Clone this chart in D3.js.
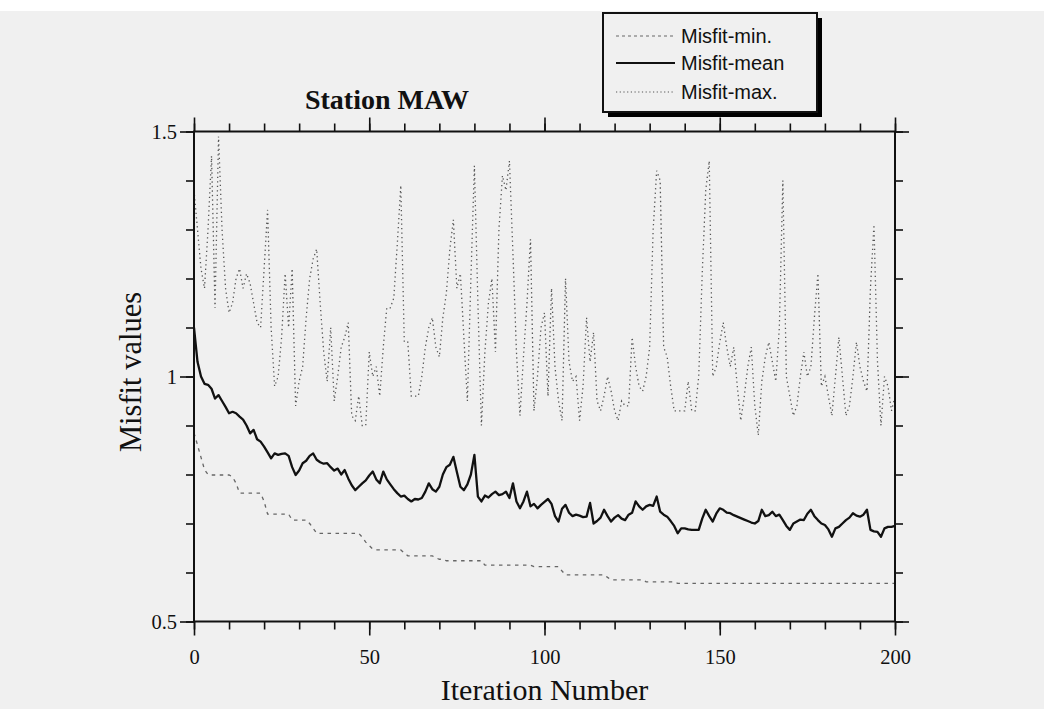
<!DOCTYPE html>
<html>
<head>
<meta charset="utf-8">
<script src="https://cdn.jsdelivr.net/npm/d3@7"></script>
<style>
  html, body { margin: 0; padding: 0; background: #f0f0f0; }
  svg { display: block; }
</style>
</head>
<body>
<div id="chart"></div>
<script>
// misfit per iteration (index = iteration number 0..200)
var misfitMax = [
  1.38, 1.30, 1.22, 1.18, 1.30, 1.45, 1.14, 1.49, 1.30, 1.18,
  1.13, 1.15, 1.20, 1.22, 1.18, 1.21, 1.19, 1.15, 1.11, 1.10,
  1.22, 1.34, 1.10, 0.98, 1.00, 1.08, 1.21, 1.10, 1.22, 0.94,
  0.99, 1.02, 1.12, 1.20, 1.24, 1.26, 1.15, 1.05, 0.99, 1.10,
  0.95, 1.00, 1.06, 1.08, 1.11, 0.92, 0.91, 0.96, 0.90, 0.90,
  1.05, 1.00, 1.02, 0.96, 1.06, 1.14, 1.14, 1.16, 1.27, 1.39,
  1.07, 1.07, 0.96, 0.96, 0.96, 1.00, 1.06, 1.10, 1.12, 1.06,
  1.04, 1.12, 1.17, 1.26, 1.32, 1.18, 1.21, 1.08, 0.95, 1.20,
  1.43, 1.15, 0.90, 1.05, 1.15, 1.20, 1.05, 1.30, 1.41, 1.38,
  1.44, 1.25, 1.05, 0.92, 1.04, 1.15, 1.28, 0.93, 1.00, 1.10,
  1.13, 0.96, 1.18, 1.02, 0.95, 0.91, 1.20, 1.03, 0.99, 1.00,
  0.91, 0.98, 1.12, 1.03, 1.09, 0.95, 0.93, 0.96, 1.00, 0.97,
  0.93, 0.91, 0.95, 0.94, 0.94, 1.08, 1.02, 0.98, 0.97, 1.00,
  1.06, 1.30, 1.42, 1.40, 1.06, 1.04, 0.98, 0.93, 0.93, 0.93,
  0.93, 0.99, 0.93, 0.93, 1.00, 1.21, 1.38, 1.44, 1.00, 1.02,
  1.07, 1.11, 1.06, 1.02, 1.06, 0.98, 0.91, 0.96, 1.02, 1.06,
  0.94, 0.88, 0.99, 1.04, 1.07, 1.03, 0.99, 1.10, 1.40, 1.00,
  0.96, 0.92, 0.94, 1.00, 1.05, 1.00, 1.02, 1.12, 1.21, 0.98,
  1.00, 0.96, 0.92, 1.00, 1.08, 1.00, 0.92, 0.94, 1.00, 1.07,
  1.02, 0.99, 0.97, 1.18, 1.31, 1.03, 0.90, 1.00, 0.98, 0.93,
  0.96
];

var misfitMean = [
  1.100, 1.030, 1.000, 0.985, 0.983, 0.975, 0.955, 0.962, 0.950, 0.938,
  0.925, 0.928, 0.925, 0.918, 0.912, 0.900, 0.884, 0.891, 0.872, 0.867,
  0.857, 0.845, 0.833, 0.843, 0.840, 0.842, 0.843, 0.838, 0.815, 0.799,
  0.808, 0.823, 0.828, 0.838, 0.843, 0.830, 0.825, 0.822, 0.823, 0.815,
  0.808, 0.812, 0.800, 0.809, 0.792, 0.778, 0.768, 0.775, 0.782, 0.788,
  0.798, 0.806, 0.790, 0.782, 0.806, 0.790, 0.780, 0.770, 0.762, 0.755,
  0.757, 0.750, 0.745, 0.750, 0.749, 0.752, 0.765, 0.782, 0.770, 0.765,
  0.775, 0.800, 0.815, 0.820, 0.836, 0.805, 0.775, 0.768, 0.780, 0.800,
  0.840, 0.755, 0.745, 0.757, 0.753, 0.760, 0.765, 0.758, 0.760, 0.765,
  0.752, 0.782, 0.745, 0.731, 0.745, 0.765, 0.735, 0.740, 0.731, 0.738,
  0.744, 0.750, 0.740, 0.715, 0.704, 0.730, 0.738, 0.722, 0.715, 0.718,
  0.716, 0.713, 0.714, 0.742, 0.700, 0.705, 0.712, 0.728, 0.715, 0.704,
  0.712, 0.717, 0.710, 0.707, 0.718, 0.722, 0.745, 0.735, 0.728, 0.735,
  0.738, 0.736, 0.755, 0.724, 0.718, 0.714, 0.705, 0.695, 0.680, 0.690,
  0.690, 0.688, 0.687, 0.687, 0.687, 0.710, 0.728, 0.715, 0.704, 0.720,
  0.731, 0.728, 0.722, 0.721, 0.717, 0.714, 0.711, 0.708, 0.705, 0.702,
  0.700, 0.705, 0.728, 0.715, 0.717, 0.724, 0.715, 0.718, 0.707, 0.695,
  0.687, 0.700, 0.704, 0.708, 0.707, 0.720, 0.728, 0.715, 0.707, 0.700,
  0.697, 0.688, 0.673, 0.690, 0.693, 0.700, 0.707, 0.712, 0.721, 0.716,
  0.714, 0.718, 0.728, 0.687, 0.684, 0.683, 0.673, 0.690, 0.693, 0.693,
  0.695
];

var misfitMin = [
  0.885, 0.860, 0.835, 0.810, 0.800, 0.799, 0.799, 0.799, 0.799, 0.799,
  0.799, 0.795, 0.782, 0.762, 0.762, 0.762, 0.762, 0.762, 0.762, 0.762,
  0.745, 0.719, 0.719, 0.719, 0.719, 0.719, 0.719, 0.719, 0.707, 0.707,
  0.707, 0.707, 0.707, 0.700, 0.690, 0.680, 0.680, 0.680, 0.680, 0.680,
  0.680, 0.680, 0.680, 0.680, 0.680, 0.680, 0.680, 0.680, 0.672, 0.662,
  0.655, 0.648, 0.646, 0.646, 0.646, 0.646, 0.646, 0.646, 0.646, 0.646,
  0.640, 0.634, 0.634, 0.634, 0.634, 0.634, 0.634, 0.634, 0.634, 0.630,
  0.627, 0.627, 0.624, 0.624, 0.624, 0.624, 0.624, 0.624, 0.624, 0.624,
  0.624, 0.624, 0.624, 0.615, 0.615, 0.615, 0.615, 0.615, 0.615, 0.615,
  0.615, 0.615, 0.615, 0.615, 0.615, 0.615, 0.615, 0.612, 0.612, 0.612,
  0.612, 0.612, 0.612, 0.612, 0.612, 0.603, 0.595, 0.595, 0.595, 0.595,
  0.595, 0.595, 0.595, 0.595, 0.595, 0.595, 0.595, 0.595, 0.590, 0.585,
  0.585, 0.585, 0.585, 0.585, 0.585, 0.585, 0.585, 0.585, 0.585, 0.581,
  0.581, 0.581, 0.581, 0.581, 0.581, 0.581, 0.581, 0.581, 0.578, 0.578,
  0.578, 0.578, 0.578, 0.578, 0.578, 0.578, 0.578, 0.578, 0.578, 0.578,
  0.578, 0.578, 0.578, 0.578, 0.578, 0.578, 0.578, 0.578, 0.578, 0.578,
  0.578, 0.578, 0.578, 0.578, 0.578, 0.578, 0.578, 0.578, 0.578, 0.578,
  0.578, 0.578, 0.578, 0.578, 0.578, 0.578, 0.578, 0.578, 0.578, 0.578,
  0.578, 0.578, 0.578, 0.578, 0.578, 0.578, 0.578, 0.578, 0.578, 0.578,
  0.578, 0.578, 0.578, 0.578, 0.578, 0.578, 0.578, 0.578, 0.578, 0.578,
  0.578
];

var xMajorTicks = [0, 50, 100, 150, 200];
var yMajorTicks = [0.5, 1, 1.5];
var yTickLabels = ["0.5", "1", "1.5"];
var legendLabels = ["Misfit-min.", "Misfit-mean", "Misfit-max."];

var serif = "'Liberation Serif', 'Times New Roman', serif";
var sans = "'Liberation Sans', Arial, sans-serif";

// note: don't call these top/left, window.top is read-only
var width = 1044,
  height = 709,
  plotLeft = 194, plotRight = 895, plotTop = 131.5, plotBottom = 621.5;

var svg = d3.select("#chart").append("svg")
  .attr("width", width)
  .attr("height", height);

svg.append("rect").attr("width", width).attr("height", height).attr("fill", "#f0f0f0");
svg.append("rect").attr("width", width).attr("height", 11).attr("fill", "#ffffff");

var x = d3.scaleLinear().domain([0, 200]).range([plotLeft, plotRight]);
var y = d3.scaleLinear().domain([0.5, 1.5]).range([plotBottom, plotTop]);

var xMinor = d3.range(0, 201, 10);
var yMinor = d3.range(5, 16).map(function (d) { return d / 10; });

function styleAxis(g) {
  g.select(".domain").remove();
  g.selectAll("line").attr("stroke", "#111").attr("stroke-width", 1.6);
  g.selectAll("text").attr("font-family", serif).attr("font-size", 20.5).attr("fill", "#111");
}

// minor ticks on all four sides
svg.append("g").attr("transform", "translate(0," + plotBottom + ")")
  .call(d3.axisBottom(x).tickValues(xMinor).tickSize(8).tickFormat(""))
  .call(styleAxis);
svg.append("g").attr("transform", "translate(0," + plotTop + ")")
  .call(d3.axisTop(x).tickValues(xMinor).tickSize(8).tickFormat(""))
  .call(styleAxis);
svg.append("g").attr("transform", "translate(" + plotLeft + ",0)")
  .call(d3.axisLeft(y).tickValues(yMinor).tickSize(8).tickFormat(""))
  .call(styleAxis);
svg.append("g").attr("transform", "translate(" + plotRight + ",0)")
  .call(d3.axisRight(y).tickValues(yMinor).tickSize(8).tickFormat(""))
  .call(styleAxis);

// major ticks
var xAxis = svg.append("g").attr("transform", "translate(0," + plotBottom + ")")
  .call(d3.axisBottom(x).tickValues(xMajorTicks).tickSize(14).tickFormat(d3.format("d")))
  .call(styleAxis);
xAxis.selectAll("text").attr("y", 42).attr("dy", null);

svg.append("g").attr("transform", "translate(0," + plotTop + ")")
  .call(d3.axisTop(x).tickValues(xMajorTicks).tickSize(14).tickFormat(""))
  .call(styleAxis);

var yAxis = svg.append("g").attr("transform", "translate(" + plotLeft + ",0)")
  .call(d3.axisLeft(y).tickValues(yMajorTicks).tickSize(14)
    .tickFormat(function (d, i) { return yTickLabels[i]; }))
  .call(styleAxis);
yAxis.selectAll("text").attr("dy", "0.34em");

svg.append("g").attr("transform", "translate(" + plotRight + ",0)")
  .call(d3.axisRight(y).tickValues(yMajorTicks).tickSize(14).tickFormat(""))
  .call(styleAxis);

// series
var line = d3.line()
  .x(function (d, i) { return x(i); })
  .y(function (d) { return y(d); });

svg.append("path").datum(misfitMax)
  .attr("d", line)
  .attr("fill", "none")
  .attr("stroke", "#555")
  .attr("stroke-width", 1.3)
  .attr("stroke-dasharray", "1.3,3.2");

svg.append("path").datum(misfitMin)
  .attr("d", line)
  .attr("fill", "none")
  .attr("stroke", "#666")
  .attr("stroke-width", 1.3)
  .attr("stroke-dasharray", "3.5,4.5");

svg.append("path").datum(misfitMean)
  .attr("d", line)
  .attr("fill", "none")
  .attr("stroke", "#111")
  .attr("stroke-width", 2.3)
  .attr("stroke-linejoin", "round");

// frame
svg.append("rect")
  .attr("x", plotLeft).attr("y", plotTop)
  .attr("width", plotRight - plotLeft).attr("height", plotBottom - plotTop)
  .attr("fill", "none")
  .attr("stroke", "#111")
  .attr("stroke-width", 2);

// titles
svg.append("text")
  .attr("x", 387).attr("y", 109)
  .attr("text-anchor", "middle")
  .attr("font-family", serif).attr("font-size", 28).attr("font-weight", "bold")
  .attr("fill", "#111")
  .text("Station MAW");

svg.append("text")
  .attr("transform", "translate(141,372) rotate(-90)")
  .attr("text-anchor", "middle")
  .attr("font-family", serif).attr("font-size", 30.5)
  .attr("fill", "#111")
  .text("Misfit values");

svg.append("text")
  .attr("x", (plotLeft + plotRight) / 2).attr("y", 700)
  .attr("text-anchor", "middle")
  .attr("font-family", serif).attr("font-size", 30)
  .attr("fill", "#111")
  .text("Iteration Number");

// legend box with drop shadow
var legend = svg.append("g");
legend.append("rect")
  .attr("x", 608).attr("y", 18).attr("width", 214).attr("height", 99)
  .attr("fill", "#000");
legend.append("rect")
  .attr("x", 603).attr("y", 13).attr("width", 214).attr("height", 99)
  .attr("fill", "#f0f0f0").attr("stroke", "#111").attr("stroke-width", 2);

var legendRows = [
  { dash: "3,3", color: "#666", width: 1.2, y: 36 },
  { dash: null, color: "#111", width: 2, y: 63 },
  { dash: "1.2,2.5", color: "#555", width: 1.2, y: 92 }
];

legendRows.forEach(function (r, i) {
  legend.append("line")
    .attr("x1", 616).attr("x2", 675)
    .attr("y1", r.y).attr("y2", r.y)
    .attr("stroke", r.color)
    .attr("stroke-width", r.width)
    .attr("stroke-dasharray", r.dash);
  legend.append("text")
    .attr("x", 681).attr("y", r.y + 7)
    .attr("font-family", sans).attr("font-size", 20)
    .attr("fill", "#111")
    .text(legendLabels[i]);
});
</script>
</body>
</html>
